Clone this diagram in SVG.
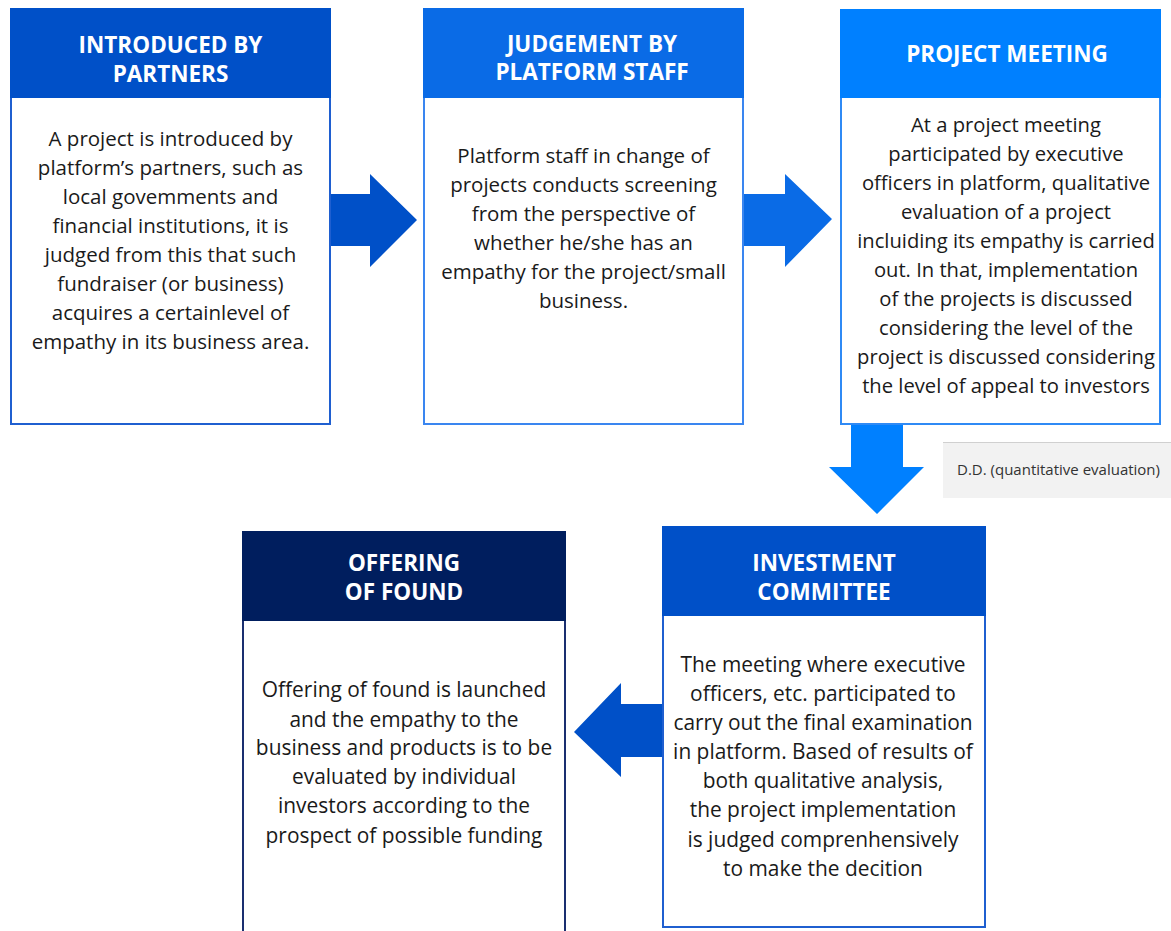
<svg xmlns="http://www.w3.org/2000/svg" width="1171" height="931" viewBox="0 0 1171 931">
<style>
.hd{font-family:"Open Sans","Liberation Sans",sans-serif;font-weight:bold;font-size:22.5px;fill:#ffffff;text-anchor:middle}
.bd{font-family:"Open Sans","Liberation Sans",sans-serif;font-size:20.5px;fill:#1a1a1a;text-anchor:middle}
.bd3{font-size:20.2px}
.bd5{font-size:20.9px}
.dd{font-family:"Open Sans","Liberation Sans",sans-serif;font-size:15px;fill:#333333}
</style>
<rect width="1171" height="931" fill="#ffffff"/>
<g id="connectors">
<polygon points="331,194 370,194 370,174 417,220 370,267 370,246 331,246" fill="#0050C8"/>
<polygon points="744,194 785,194 785,174 832,219 785,267 785,246 744,246" fill="#0A6BE6"/>
<polygon points="851,424 903,424 903,467 924,467 877,514 829,467 851,467" fill="#0080FF"/>
<polygon points="662,704 621,704 621,683 574,732 621,777 621,757 662,757" fill="#0050C8"/>
</g>
<g id="dd-label">
<rect x="943" y="442" width="228" height="56" fill="#f2f2f2"/>
<line x1="943" y1="442.5" x2="1171" y2="442.5" stroke="#d0d0d0" stroke-width="1"/>
<text class="dd" x="957" y="475">D.D. (quantitative evaluation)</text>
</g>
<g id="node-introduced">
<rect x="11" y="9" width="319" height="415" fill="#ffffff" stroke="#1f5fd0" stroke-width="2"/>
<rect x="10" y="8" width="321" height="90" fill="#0050C8"/>
<text class="hd" x="170.5" y="53">INTRODUCED BY</text>
<text class="hd" x="170.5" y="82">PARTNERS</text>
<text class="bd" x="170.5" y="146">A project is introduced by</text>
<text class="bd" x="170.5" y="175">platform’s partners, such as</text>
<text class="bd" x="170.5" y="204">local govemments and</text>
<text class="bd" x="170.5" y="233">financial institutions, it is</text>
<text class="bd" x="170.5" y="262">judged from this that such</text>
<text class="bd" x="170.5" y="291">fundraiser (or business)</text>
<text class="bd" x="170.5" y="320">acquires a certainlevel of</text>
<text class="bd" x="170.5" y="349">empathy in its business area.</text>
</g>
<g id="node-judgement">
<rect x="424" y="9" width="319" height="415" fill="#ffffff" stroke="#3a86f0" stroke-width="2"/>
<rect x="423" y="8" width="321" height="90" fill="#0A6BE6"/>
<text class="hd" x="592" y="52">JUDGEMENT BY</text>
<text class="hd" x="592" y="80">PLATFORM STAFF</text>
<text class="bd" x="583.5" y="163">Platform staff in change of</text>
<text class="bd" x="583.5" y="192">projects conducts screening</text>
<text class="bd" x="583.5" y="221">from the perspective of</text>
<text class="bd" x="583.5" y="250">whether he/she has an</text>
<text class="bd" x="583.5" y="279">empathy for the project/small</text>
<text class="bd" x="583.5" y="308">business.</text>
</g>
<g id="node-meeting">
<rect x="841" y="10" width="319" height="414" fill="#ffffff" stroke="#2f8af5" stroke-width="2"/>
<rect x="840" y="9" width="321" height="89" fill="#0080FF"/>
<text class="hd" x="1007" y="62">PROJECT MEETING</text>
<text class="bd bd3" x="1006" y="131.5">At a project meeting</text>
<text class="bd bd3" x="1006" y="160.5">participated by executive</text>
<text class="bd bd3" x="1006" y="189.5">officers in platform, qualitative</text>
<text class="bd bd3" x="1006" y="218.5">evaluation of a project</text>
<text class="bd bd3" x="1006" y="247.5">incluiding its empathy is carried</text>
<text class="bd bd3" x="1006" y="276.5">out. In that, implementation</text>
<text class="bd bd3" x="1006" y="305.5">of the projects is discussed</text>
<text class="bd bd3" x="1006" y="334.5">considering the level of the</text>
<text class="bd bd3" x="1006" y="363.5">project is discussed considering</text>
<text class="bd bd3" x="1006" y="392.5">the level of appeal to investors</text>
</g>
<g id="node-committee">
<rect x="663" y="527" width="322" height="400" fill="#ffffff" stroke="#1f5fd0" stroke-width="2"/>
<rect x="662" y="526" width="324" height="90" fill="#0050C8"/>
<text class="hd" x="824" y="571">INVESTMENT</text>
<text class="hd" x="824" y="600">COMMITTEE</text>
<text class="bd bd5" x="823" y="672">The meeting where executive</text>
<text class="bd bd5" x="823" y="701">officers, etc. participated to</text>
<text class="bd bd5" x="823" y="730">carry out the final examination</text>
<text class="bd bd5" x="823" y="759">in platform. Based of results of</text>
<text class="bd bd5" x="823" y="788">both qualitative analysis,</text>
<text class="bd bd5" x="823" y="817">the project implementation</text>
<text class="bd bd5" x="823" y="847">is judged comprenhensively</text>
<text class="bd bd5" x="823" y="876">to make the decition</text>
</g>
<g id="node-offering">
<rect x="243" y="532" width="322" height="410" fill="#ffffff" stroke="#1a2f70" stroke-width="2"/>
<rect x="242" y="531" width="324" height="90" fill="#001E5E"/>
<text class="hd" x="404" y="571">OFFERING</text>
<text class="hd" x="404" y="600">OF FOUND</text>
<text class="bd bd5" x="404" y="697">Offering of found is launched</text>
<text class="bd bd5" x="404" y="727">and the empathy to the</text>
<text class="bd bd5" x="404" y="755">business and products is to be</text>
<text class="bd bd5" x="404" y="784">evaluated by individual</text>
<text class="bd bd5" x="404" y="813">investors according to the</text>
<text class="bd bd5" x="404" y="843">prospect of possible funding</text>
</g>
</svg>
